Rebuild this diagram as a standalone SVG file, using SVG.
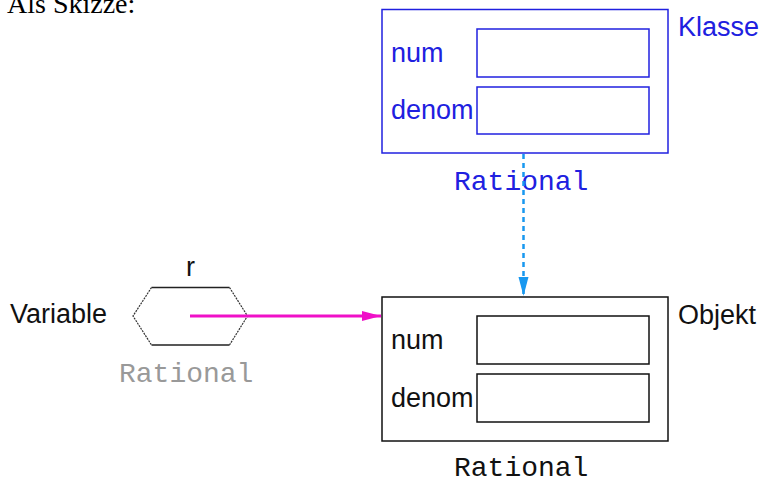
<svg xmlns="http://www.w3.org/2000/svg" width="764" height="481" viewBox="0 0 764 481">
  <style>
    .lbl { font-family: "Liberation Sans", Arial, sans-serif; font-size: 27px; }
    .type { font-family: "Liberation Mono", "Courier New", monospace; font-size: 28px; }
    .cls { fill: none; stroke: #2020e0; stroke-width: 1.5; }
    .obj { fill: none; stroke: #111; stroke-width: 1.5; }
  </style>
  <defs>
    <marker id="headPink" markerUnits="userSpaceOnUse" markerWidth="20" markerHeight="12" refX="19" refY="6" orient="auto">
      <path d="M0,1 L19,6 L0,11 Z" fill="#f010c8"/>
    </marker>
    <marker id="headBlue" markerUnits="userSpaceOnUse" markerWidth="12" markerHeight="20" refX="6" refY="19" orient="0">
      <path d="M1,0 L11,0 L6,19 Z" fill="#1898f0"/>
    </marker>
  </defs>

  <text x="7" y="13" font-family="'Liberation Serif', 'Times New Roman', serif" font-size="28" fill="#000">Als Skizze:</text>

  <!-- class box -->
  <g id="klasse">
    <rect class="cls" x="382" y="9.5" width="286" height="143.5"/>
    <rect class="cls" x="477" y="29" width="172" height="48"/>
    <rect class="cls" x="477" y="87" width="172" height="47"/>
    <text class="lbl" x="391" y="62" fill="#2020e0">num</text>
    <text class="lbl" x="391" y="119" fill="#2020e0">denom</text>
    <text class="lbl" x="678" y="36" fill="#2020e0">Klasse</text>
    <text class="type" x="454" y="190" fill="#2020e0">Rational</text>
  </g>

  <!-- object box -->
  <g id="objekt">
    <rect class="obj" x="382" y="297" width="286" height="144"/>
    <rect class="obj" x="477" y="316" width="172" height="48"/>
    <rect class="obj" x="477" y="374" width="172" height="48"/>
    <text class="lbl" x="391" y="349" fill="#111">num</text>
    <text class="lbl" x="391" y="407" fill="#111">denom</text>
    <text class="lbl" x="678" y="324" fill="#111">Objekt</text>
    <text class="type" x="454" y="476" fill="#111">Rational</text>
  </g>

  <!-- variable r -->
  <g id="variable">
    <path d="M151.5,287.5 L229.5,287.5 M151.5,345 L229.5,345" stroke="#222" stroke-width="1.5" fill="none"/>
    <path d="M151.5,287.5 L133,316 L151.5,345 M229.5,287.5 L247.5,316 L229.5,345" stroke="#333" stroke-width="1.2" stroke-dasharray="2 1" fill="none"/>
    <text class="lbl" x="186" y="276" fill="#111">r</text>
    <text class="lbl" x="10" y="323" fill="#111">Variable</text>
    <text class="type" x="119" y="382" fill="#999">Rational</text>
  </g>

  <!-- connectors -->
  <g id="connectors">
    <line x1="190" y1="316" x2="381" y2="316" stroke="#f010c8" stroke-width="3" marker-end="url(#headPink)"/>
    <line x1="523.5" y1="154" x2="523.5" y2="296" stroke="#1898f0" stroke-width="2.5" stroke-dasharray="5 4" marker-end="url(#headBlue)"/>
  </g>
</svg>
